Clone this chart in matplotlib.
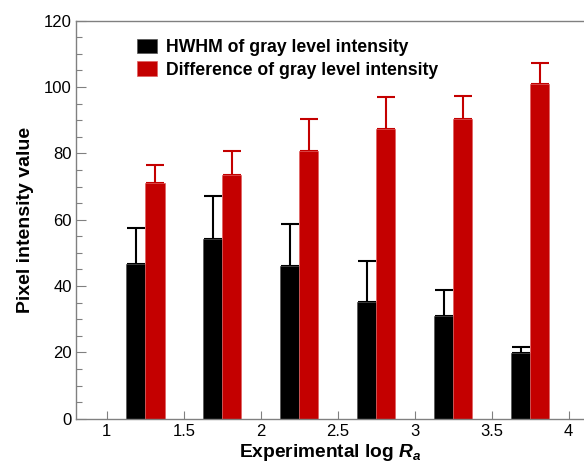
import numpy as np
import matplotlib
matplotlib.use('Agg')
import matplotlib.pyplot as plt

plt.rcParams['font.family'] = ['Liberation Sans', 'DejaVu Sans']
plt.rcParams['mathtext.fontset'] = 'custom'
plt.rcParams['mathtext.it'] = 'Liberation Sans:italic:bold'
plt.rcParams['mathtext.rm'] = 'Liberation Sans:bold'

# data
log_ra = [1.25, 1.75, 2.25, 2.75, 3.25, 3.75]
hwhm = [46.6, 54.2, 45.9, 35.3, 31.1, 19.9]
hwhm_err = [10.9, 12.8, 12.9, 12.1, 7.7, 1.8]
diff = [71.0, 73.4, 80.8, 87.3, 90.5, 100.9]
diff_err = [5.6, 7.2, 9.6, 9.8, 6.9, 6.2]

red = '#c40000'
w = 0.125

fig = plt.figure(figsize=(5.84, 4.68), dpi=100)
ax = fig.add_axes([76 / 584, 1 - 418.7 / 468, 508 / 584, 398 / 468])

x = np.array(log_ra)
zeros = np.zeros(len(x))
ax.bar(x - w / 2, hwhm, width=w, color='black', edgecolor='#555555', linewidth=0.5,
       label='HWHM of gray level intensity', zorder=2)
ax.bar(x + w / 2, diff, width=w, color=red, edgecolor='#e06060', linewidth=0.5,
       label='Difference of gray level intensity', zorder=2)
ax.errorbar(x - w / 2, hwhm, yerr=[zeros, hwhm_err], fmt='none', ecolor='black',
            elinewidth=1.5, capsize=6.8, capthick=1.5, zorder=1)
ax.errorbar(x + w / 2, diff, yerr=[zeros, diff_err], fmt='none', ecolor=red,
            elinewidth=1.5, capsize=6.8, capthick=1.5, zorder=1)

ax.set_xlim(0.8, 4.1)
ax.set_ylim(0, 120)
ax.set_xticks([1, 1.5, 2, 2.5, 3, 3.5, 4])
ax.set_xticklabels(['1', '1.5', '2', '2.5', '3', '3.5', '4'])
ax.set_yticks(np.arange(0, 121, 20))
ax.set_yticks(np.arange(0, 121, 5), minor=True)
ax.tick_params(direction='in', labelsize=12, color='#808080', length=7, width=0.8,
               pad=3)
ax.tick_params(which='minor', direction='in', color='#808080', length=4.5, width=0.8)
ax.tick_params(axis='x', which='major', length=6, pad=4)

for s in ['left', 'bottom', 'top']:
    ax.spines[s].set_color('#808080')
    ax.spines[s].set_linewidth(1.0)
ax.spines['right'].set_visible(False)

ax.set_xlabel(r'Experimental log $R_a$', fontsize=13.8, fontweight='bold', labelpad=2)
ax.set_ylabel('Pixel intensity value', fontsize=14, fontweight='bold', labelpad=7)

ax.legend(loc='upper left', bbox_to_anchor=(0.1195, 0.955), frameon=False,
          prop={'size': 12.7, 'weight': 'bold'}, borderpad=0, borderaxespad=0,
          handlelength=1.15, handleheight=0.92, handletextpad=0.5, labelspacing=0.3)

plt.savefig('out.png', dpi=100)
